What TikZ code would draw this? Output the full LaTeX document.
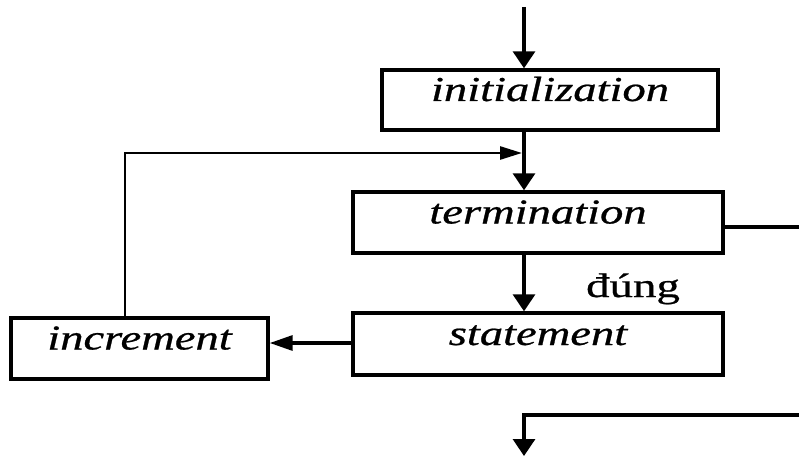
\documentclass[tikz,border=0pt]{standalone}
\usepackage{fontspec}
\usepackage{graphicx}
\setmainfont{Liberation Serif}
\newfontfamily\labelfont[FakeBold=0.6]{Liberation Serif}
\usetikzlibrary{arrows.meta}

% wide italic box labels and the wide upright branch label
\newcommand{\boxlabel}[1]{\scalebox{1.33}[1]{\labelfont\fontsize{35}{40}\selectfont\itshape #1}}
\newcommand{\branchlabel}[1]{\scalebox{1.38}[1]{\labelfont\fontsize{34}{38}\selectfont #1}}

\tikzset{
  stepbox/.style={draw, line width=3.4pt, rectangle, inner sep=0pt,
    text height=8pt, text depth=6pt},
  flow/.style={line width=3.2pt, -{Triangle[length=17pt,width=22pt]}},
  sideflow/.style={line width=3.2pt, -{Triangle[length=23pt,width=15pt]}},
  backflow/.style={line width=2.6pt, -{Triangle[length=22pt,width=13pt]}},
  plain/.style={line width=3.2pt},
}

\begin{document}
\begin{tikzpicture}[x=1pt, y=-1pt]
\useasboundingbox (0,0) rectangle (799,457);

% boxes
\node[stepbox, minimum width=336pt, minimum height=60pt] (init) at (550,100) {\boxlabel{initialization}};
\node[stepbox, minimum width=370pt, minimum height=61pt] (term) at (538,222.5) {\boxlabel{termination}};
\node[stepbox, minimum width=370pt, minimum height=62pt] (stmt) at (538,344) {\boxlabel{statement}};
\node[stepbox, minimum width=257pt, minimum height=61pt] (incr) at (139.5,348.5) {\boxlabel{increment}};

% fixed points of the connectors
\coordinate (start) at (524,7);
\coordinate (join) at (522,153);
\coordinate (corner) at (125,153);
\coordinate (exitT) at (799,227);
\coordinate (exitB) at (799,415);
\coordinate (finish) at (524,456);

% main flow
\draw[flow] (start) -- (start |- init.north);
\draw[flow] (init.south -| start) -- (term.north -| start);
\draw[flow] (term.south -| start) -- (stmt.north -| start);
\node[anchor=base] (yes) at (633,297) {\branchlabel{đúng}};

% statement to increment, then back to the test
\draw[sideflow] (stmt.west |- 0,343) -- (incr.east |- 0,343);
\draw[backflow] (incr.north -| corner) -- (corner) -- (join);

% false branch leaving the test and re-entering below
\draw[plain] (term.east |- exitT) -- (exitT);
\draw[flow] (exitB) -| (finish);
\end{tikzpicture}
\end{document}
